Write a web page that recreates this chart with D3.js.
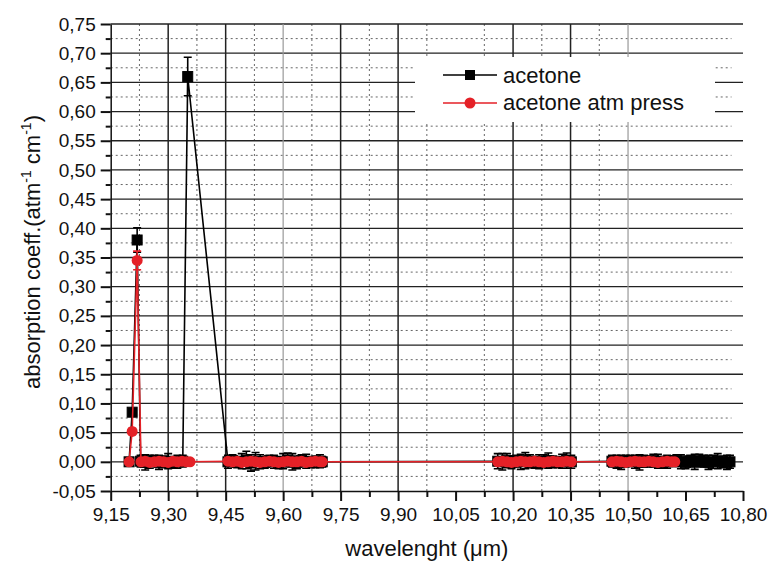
<html lang="en">
<head>
<meta http-equiv="Content-Type" content="text/html; charset=UTF-8">
<title>acetone absorption</title>
<script type="text/javascript" src="https://cdn.jsdelivr.net/npm/d3@7/dist/d3.min.js"></script>
<style type="text/css">
body { margin: 0; background: #fff; }
text { font-family: "Liberation Sans", Arial, sans-serif; fill: #111; }
</style>
</head>
<body>

<script type="text/javascript">

// tick labels
var xTicks = [9.15, 9.30, 9.45, 9.60, 9.75, 9.90, 10.05, 10.20, 10.35, 10.50, 10.65, 10.80];
var yTicks = [-0.05, 0.00, 0.05, 0.10, 0.15, 0.20, 0.25, 0.30, 0.35, 0.40, 0.45, 0.50, 0.55, 0.60, 0.65, 0.70, 0.75];
var xMinor = [9.225, 9.375, 9.525, 9.675, 9.825, 9.975, 10.125, 10.275, 10.425, 10.575, 10.725];
var yMinor = [-0.025, 0.025, 0.075, 0.125, 0.175, 0.225, 0.275, 0.325, 0.375, 0.425, 0.475, 0.525, 0.575, 0.625, 0.675, 0.725];
// grid lines that are actually drawn in the original
var xGridDark = [9.30, 9.45, 9.75, 9.90, 10.20, 10.35];
var xGridLight = [9.60, 10.50];
var xGridDotted = [9.225, 9.375, 9.525, 9.675, 9.825, 9.975, 10.125, 10.275, 10.425];

var seriesNames = ["acetone", "acetone atm press"];

// acetone (black squares)
var acetoneWl = [9.198, 9.206, 9.219,
    9.228, 9.240, 9.252, 9.264, 9.276, 9.288, 9.300, 9.312, 9.324, 9.338,
    9.351,
    9.456, 9.468, 9.480, 9.492, 9.504, 9.516, 9.528, 9.540, 9.552, 9.564, 9.576,
    9.588, 9.600, 9.612, 9.624, 9.636, 9.648, 9.660, 9.672, 9.684, 9.696, 9.702,
    10.160, 10.172, 10.184, 10.196, 10.208, 10.220, 10.232, 10.244, 10.256, 10.268,
    10.280, 10.292, 10.304, 10.316, 10.328, 10.340, 10.352,
    10.458, 10.470, 10.482, 10.494, 10.506, 10.518, 10.530, 10.542, 10.554, 10.566,
    10.578, 10.590, 10.602, 10.614, 10.626, 10.638, 10.650, 10.662, 10.674, 10.686,
    10.698, 10.710, 10.722, 10.734, 10.746, 10.758, 10.766];
var acetoneVal = [0.000, 0.085, 0.380,
    0.001, -0.001, 0.000, 0.002, -0.001, 0.000, 0.001, -0.002, 0.000, 0.001,
    0.660,
    0.000, 0.002, -0.001, 0.001, 0.003, -0.002, 0.001, 0.000, -0.001, 0.002, 0.000,
    -0.002, 0.001, 0.003, 0.000, -0.001, 0.002, 0.001, -0.001, 0.000, 0.001, 0.000,
    0.001, 0.000, 0.002, -0.001, 0.001, 0.000, 0.002, 0.001, -0.001, 0.000,
    0.001, 0.002, 0.000, -0.001, 0.001, 0.002, 0.000,
    0.001, 0.000, -0.001, 0.001, 0.002, 0.000, -0.001, 0.001, 0.000, 0.002,
    0.001, -0.001, 0.000, 0.001, 0.002, 0.000, -0.001, 0.001, 0.000, 0.002,
    0.001, -0.001, 0.000, 0.001, 0.000, -0.001, 0.000];
var acetoneErr = [0.004, 0.006, 0.021,
    0.010, 0.013, 0.011, 0.009, 0.012, 0.010, 0.013, 0.009, 0.011, 0.010,
    0.033,
    0.011, 0.010, 0.009, 0.013, 0.015, 0.014, 0.015, 0.012, 0.010, 0.009, 0.011,
    0.010, 0.013, 0.012, 0.014, 0.011, 0.010, 0.012, 0.009, 0.010, 0.011, 0.009,
    0.013, 0.014, 0.012, 0.011, 0.010, 0.013, 0.014, 0.011, 0.010, 0.012,
    0.011, 0.013, 0.010, 0.009, 0.012, 0.013, 0.011,
    0.010, 0.011, 0.012, 0.010, 0.009, 0.011, 0.013, 0.010, 0.009, 0.011,
    0.012, 0.010, 0.011, 0.009, 0.010, 0.012, 0.011, 0.010, 0.013, 0.011,
    0.010, 0.012, 0.011, 0.013, 0.010, 0.012, 0.011];

// acetone atm press (red circles)
var atmWl = [9.198, 9.206, 9.219,
    9.229, 9.240, 9.252, 9.264, 9.276, 9.288, 9.300, 9.312, 9.324, 9.336, 9.348, 9.357,
    9.456, 9.468, 9.480, 9.492, 9.504, 9.516, 9.528, 9.540, 9.552, 9.564, 9.576,
    9.588, 9.600, 9.612, 9.624, 9.636, 9.648, 9.660, 9.672, 9.684, 9.696, 9.702,
    10.160, 10.172, 10.184, 10.196, 10.208, 10.220, 10.232, 10.244, 10.256, 10.268,
    10.280, 10.292, 10.304, 10.316, 10.328, 10.340, 10.352,
    10.458, 10.470, 10.482, 10.494, 10.506, 10.518, 10.530, 10.542, 10.554, 10.566,
    10.578, 10.590, 10.602, 10.614, 10.622];
var atmVal = [0.000, 0.052, 0.345,
    0.000, 0.001, -0.001, 0.000, 0.001, 0.000, -0.001, 0.001, 0.000, 0.001, 0.000, 0.000,
    0.001, 0.000, 0.001, -0.001, 0.000, 0.001, 0.000, -0.001, 0.000, 0.001, 0.000,
    -0.001, 0.000, 0.001, 0.000, 0.000, 0.001, -0.001, 0.000, 0.001, 0.000, 0.000,
    0.000, 0.001, 0.000, -0.001, 0.000, 0.001, 0.000, 0.000, 0.001, 0.000,
    -0.001, 0.000, 0.001, 0.000, 0.000, 0.001, 0.000,
    0.000, 0.001, 0.000, -0.001, 0.000, 0.001, 0.000, 0.000, 0.001, 0.000,
    -0.001, 0.000, 0.001, 0.000, 0.000];
var atmErr = [0.003, 0.005, 0.016,
    0.004, 0.005, 0.004, 0.005, 0.004, 0.005, 0.004, 0.005, 0.004, 0.005, 0.004, 0.004,
    0.005, 0.004, 0.005, 0.004, 0.005, 0.004, 0.005, 0.004, 0.005, 0.004, 0.005,
    0.004, 0.005, 0.004, 0.005, 0.004, 0.005, 0.004, 0.005, 0.004, 0.005, 0.004,
    0.004, 0.005, 0.004, 0.005, 0.004, 0.005, 0.004, 0.005, 0.004, 0.005,
    0.004, 0.005, 0.004, 0.005, 0.004, 0.005, 0.004,
    0.005, 0.004, 0.005, 0.004, 0.005, 0.004, 0.005, 0.004, 0.005, 0.004,
    0.005, 0.004, 0.005, 0.004, 0.005];

var acetone = acetoneWl.map(function(w, i){ return {x: w, y: acetoneVal[i], e: acetoneErr[i]}; });
var atm = atmWl.map(function(w, i){ return {x: w, y: atmVal[i], e: atmErr[i]}; });

var RED = "#e42127";

var svg = d3.select("body").append("svg")
    .attr("width", 770)
    .attr("height", 563);

var x = d3.scaleLinear().domain([9.15, 10.80]).range([110.7, 743]);
var y = d3.scaleLinear().domain([-0.05, 0.75]).range([491, 24]);

var loc = d3.formatLocale({decimal: ",", thousands: ".", grouping: [3], currency: ["", ""], minus: "-"});
var fmt = loc.format(".2f");

// grid
var grid = svg.append("g");
grid.selectAll("line.ymin").data(yMinor).enter().append("line")
    .attr("x1", x(9.15)).attr("x2", x(10.77))
    .attr("y1", function(d){ return y(d); }).attr("y2", function(d){ return y(d); })
    .attr("stroke", "#666").attr("stroke-width", 1).attr("stroke-dasharray", "2,3");
grid.selectAll("line.xmin").data(xGridDotted).enter().append("line")
    .attr("x1", function(d){ return x(d); }).attr("x2", function(d){ return x(d); })
    .attr("y1", y(0.75)).attr("y2", y(-0.05))
    .attr("stroke", "#666").attr("stroke-width", 1).attr("stroke-dasharray", "2,3");
grid.selectAll("line.ymaj").data(yTicks.slice(1)).enter().append("line")
    .attr("x1", x(9.15)).attr("x2", x(10.80))
    .attr("y1", function(d){ return y(d); }).attr("y2", function(d){ return y(d); })
    .attr("stroke", "#222").attr("stroke-width", 1.3);
grid.selectAll("line.xmaj").data(xGridDark).enter().append("line")
    .attr("x1", function(d){ return x(d); }).attr("x2", function(d){ return x(d); })
    .attr("y1", y(0.75)).attr("y2", y(-0.05))
    .attr("stroke", "#222").attr("stroke-width", 1.5);
grid.selectAll("line.xlight").data(xGridLight).enter().append("line")
    .attr("x1", function(d){ return x(d); }).attr("x2", function(d){ return x(d); })
    .attr("y1", y(0.75)).attr("y2", y(-0.05))
    .attr("stroke", "#999").attr("stroke-width", 1.2);

// legend background hides the grid
svg.append("rect")
    .attr("x", 415).attr("y", 57).attr("width", 300).attr("height", 65)
    .attr("fill", "#fff");

// axes
svg.append("g").attr("transform", "translate(0," + y(-0.05) + ")")
    .call(d3.axisBottom(x).tickValues(xTicks).tickFormat(fmt).tickSize(10).tickPadding(7).tickSizeOuter(0));
svg.append("g").attr("transform", "translate(0," + y(-0.05) + ")")
    .call(d3.axisBottom(x).tickValues(xMinor).tickFormat("").tickSize(6).tickSizeOuter(0))
    .select(".domain").remove();
svg.append("g").attr("transform", "translate(" + x(9.15) + ",0)")
    .call(d3.axisLeft(y).tickValues(yTicks).tickFormat(fmt).tickSize(10).tickPadding(5).tickSizeOuter(0));
svg.append("g").attr("transform", "translate(" + x(9.15) + ",0)")
    .call(d3.axisLeft(y).tickValues(yMinor).tickFormat("").tickSize(5).tickSizeOuter(0))
    .select(".domain").remove();

svg.selectAll(".tick line").attr("stroke", "#111").attr("stroke-width", 2);
svg.selectAll(".domain").attr("stroke", "#111").attr("stroke-width", 1.5);
svg.selectAll(".tick text").attr("font-size", 19).attr("font-family", "Liberation Sans, Arial, sans-serif").attr("fill", "#111");

// series drawing
function drawSeries(data, color, symbol) {
    var g = svg.append("g");
    g.selectAll("path.err").data(data).enter().append("path")
        .attr("d", function(d){
            var cx = x(d.x), t = y(d.y + d.e), b = y(d.y - d.e);
            return "M" + (cx - 4) + "," + t + "H" + (cx + 4) +
                   "M" + cx + "," + t + "V" + b +
                   "M" + (cx - 4) + "," + b + "H" + (cx + 4);
        })
        .attr("stroke", color).attr("stroke-width", 1.6).attr("fill", "none");

    var line = d3.line().x(function(d){ return x(d.x); }).y(function(d){ return y(d.y); });
    g.append("path").attr("d", line(data))
        .attr("stroke", color).attr("stroke-width", 1.6).attr("fill", "none");

    if (symbol == "square") {
        g.selectAll("rect").data(data).enter().append("rect")
            .attr("x", function(d){ return x(d.x) - 5; })
            .attr("y", function(d){ return y(d.y) - 5; })
            .attr("width", 10).attr("height", 10)
            .attr("fill", color).attr("stroke", color).attr("stroke-width", 1);
    } else {
        g.selectAll("circle").data(data).enter().append("circle")
            .attr("cx", function(d){ return x(d.x); })
            .attr("cy", function(d){ return y(d.y); })
            .attr("r", 5.5)
            .attr("fill", color);
    }
}

drawSeries(acetone, "#000", "square");
drawSeries(atm, RED, "circle");

// legend
var leg = svg.append("g");
[["#000", "square", 75, 83], [RED, "circle", 103, 110]].forEach(function(r, i){
    leg.append("line").attr("x1", 443).attr("x2", 497).attr("y1", r[2]).attr("y2", r[2])
        .attr("stroke", r[0]).attr("stroke-width", 1.6);
    if (r[1] == "square") {
        leg.append("rect").attr("x", 465).attr("y", r[2] - 5).attr("width", 10).attr("height", 10).attr("fill", r[0]);
    } else {
        leg.append("circle").attr("cx", 470).attr("cy", r[2]).attr("r", 5.5).attr("fill", r[0]);
    }
    leg.append("text").attr("x", 503).attr("y", r[3]).attr("font-size", 22).text(seriesNames[i]);
});

// axis titles
svg.append("text")
    .attr("x", (x(9.15) + x(10.80)) / 2).attr("y", 556)
    .attr("text-anchor", "middle").attr("font-size", 22)
    .text("wavelenght (\u03bcm)");

var yt = svg.append("text")
    .attr("transform", "translate(40,252) rotate(-90)")
    .attr("text-anchor", "middle").attr("font-size", 22);
yt.append("tspan").text("absorption coeff.(atm");
yt.append("tspan").attr("font-size", 14).attr("dy", -9).text("-1");
yt.append("tspan").attr("dy", 9).text(" cm");
yt.append("tspan").attr("font-size", 14).attr("dy", -9).text("-1");
yt.append("tspan").attr("dy", 9).text(")");

</script>

</body>
</html>
